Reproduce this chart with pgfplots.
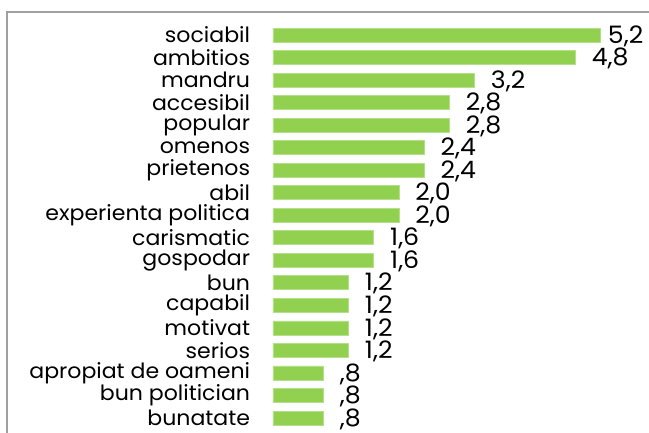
\documentclass[border=0pt]{standalone}
\usepackage{fontspec}
\setmainfont{Poppins}[FakeStretch=1.05]
\usepackage{pgfplots}
\pgfplotsset{compat=1.18}
\usepackage{pgfplotstable}
\definecolor{bargreen}{HTML}{92D050}
\definecolor{baredge}{HTML}{B4E089}
\definecolor{framegray}{HTML}{A0A0A0}

\pgfplotstableread{
i v l
0 5.2 5,2
1 4.8 4,8
2 3.2 3,2
3 2.8 2,8
4 2.8 2,8
5 2.4 2,4
6 2.4 2,4
7 2.0 2,0
8 2.0 2,0
9 1.6 1,6
10 1.6 1,6
11 1.2 1,2
12 1.2 1,2
13 1.2 1,2
14 1.2 1,2
15 0.8 ,8
16 0.8 ,8
17 0.8 ,8
}\scores

\begin{document}
\begin{tikzpicture}
\begin{axis}[
    at={(0,0)}, anchor=south west,
    scale only axis,
    width=189pt, height=202.75pt,
    xmin=0, xmax=6,
    ymin=-0.5, ymax=17.5,
    y dir=reverse,
    xbar, bar width=7pt,
    axis line style={draw=none},
    major tick style={draw=none},
    xtick=\empty,
    ytick={0,...,17},
    yticklabels={sociabil, ambitios, mandru, accesibil, popular, omenos,
        prietenos, abil, experienta politica, carismatic, gospodar, bun,
        capabil, motivat, serios, apropiat de oameni, bun politician, bunatate},
    yticklabel style={font=\fontsize{10.5}{11}\selectfont, inner sep=0pt,
        anchor=east, xshift=-7pt},
    point meta=explicit symbolic,
    nodes near coords={\ifnum\coordindex=0 \hspace*{-4.5pt}\fi\pgfplotspointmeta},
    nodes near coords style={font=\fontsize{12}{13}\selectfont, inner sep=0pt,
        anchor=west, xshift=8pt, yshift=-0.5pt},
    clip=false,
]
\addplot[fill=bargreen, draw=baredge, line width=0.4pt]
    table[x=v, y=i, meta=l] {\scores};
\end{axis}
\draw[framegray, line width=0.75pt] (-133pt,-5pt) -- (-133pt,208.65pt) -- (195pt,208.65pt);
\pgfresetboundingbox
\path[use as bounding box] (-136.5pt,-1.85pt) rectangle (188pt,214.65pt);
\end{tikzpicture}
\end{document}
